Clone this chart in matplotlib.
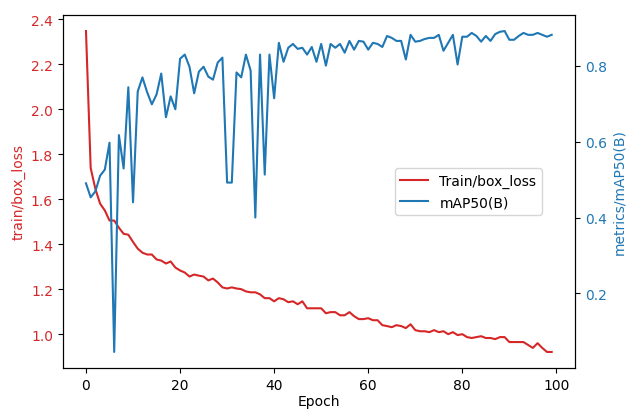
import numpy as np
import matplotlib
matplotlib.use("Agg")
import matplotlib.pyplot as plt

epochs = np.arange(100)

box_loss = [2.347, 1.738, 1.645, 1.58, 1.55, 1.505, 1.505, 1.473, 1.446, 1.442,
            1.41, 1.38, 1.362, 1.354, 1.354, 1.332, 1.327, 1.314, 1.323, 1.296,
            1.283, 1.274, 1.256, 1.265, 1.26, 1.256, 1.239, 1.247, 1.23, 1.208,
            1.203, 1.208, 1.203, 1.2, 1.19, 1.186, 1.186, 1.177, 1.16, 1.16,
            1.146, 1.16, 1.155, 1.142, 1.146, 1.133, 1.146, 1.115, 1.115, 1.115,
            1.115, 1.093, 1.098, 1.098, 1.084, 1.084, 1.098, 1.08, 1.067, 1.067,
            1.071, 1.062, 1.062, 1.04, 1.036, 1.031, 1.04, 1.036, 1.027, 1.044,
            1.018, 1.013, 1.013, 1.009, 1.018, 1.009, 1.013, 1.0, 1.009, 0.996,
            1.0, 0.987, 0.983, 0.987, 0.991, 0.983, 0.983, 0.978, 0.987, 0.987,
            0.965, 0.965, 0.965, 0.965, 0.952, 0.939, 0.96, 0.939, 0.921, 0.921]

map50 = [0.49, 0.453, 0.469, 0.51, 0.526, 0.597, 0.046, 0.617, 0.529, 0.743,
         0.44, 0.732, 0.769, 0.73, 0.698, 0.724, 0.779, 0.664, 0.719, 0.685,
         0.818, 0.829, 0.797, 0.727, 0.784, 0.797, 0.771, 0.763, 0.808, 0.821,
         0.492, 0.492, 0.782, 0.769, 0.829, 0.787, 0.4, 0.829, 0.513, 0.829,
         0.714, 0.86, 0.81, 0.847, 0.857, 0.844, 0.847, 0.829, 0.849, 0.81,
         0.857, 0.8, 0.857, 0.847, 0.857, 0.834, 0.865, 0.842, 0.865, 0.863,
         0.842, 0.86, 0.857, 0.849, 0.878, 0.873, 0.865, 0.865, 0.816, 0.881,
         0.863, 0.865, 0.87, 0.873, 0.873, 0.881, 0.839, 0.86, 0.881, 0.803,
         0.876, 0.876, 0.886, 0.878, 0.863, 0.878, 0.865, 0.883, 0.889, 0.891,
         0.868, 0.868, 0.878, 0.886, 0.881, 0.881, 0.886, 0.881, 0.876, 0.881]

red = "#d62728"
blue = "#1f77b4"

fig = plt.figure(figsize=(6.27, 4.10), dpi=100)
ax1 = fig.add_axes([0.1, 0.1, 0.817, 0.861])
l1, = ax1.plot(epochs, box_loss, color=red, label="Train/box_loss")
ax1.set_xlabel("Epoch", labelpad=2)
ax1.set_ylabel("train/box_loss", color=red)
ax1.tick_params(axis="y", labelcolor=red)

ax2 = ax1.twinx()
l2, = ax2.plot(epochs, map50, color=blue, label="mAP50(B)")
ax2.set_ylabel("metrics/mAP50(B)", color=blue)
ax2.tick_params(axis="y", labelcolor=blue)

ax1.legend([l1, l2], [l1.get_label(), l2.get_label()],
           loc="center left", bbox_to_anchor=(0.635, 0.5))

fig.savefig("out.png", dpi=100)
